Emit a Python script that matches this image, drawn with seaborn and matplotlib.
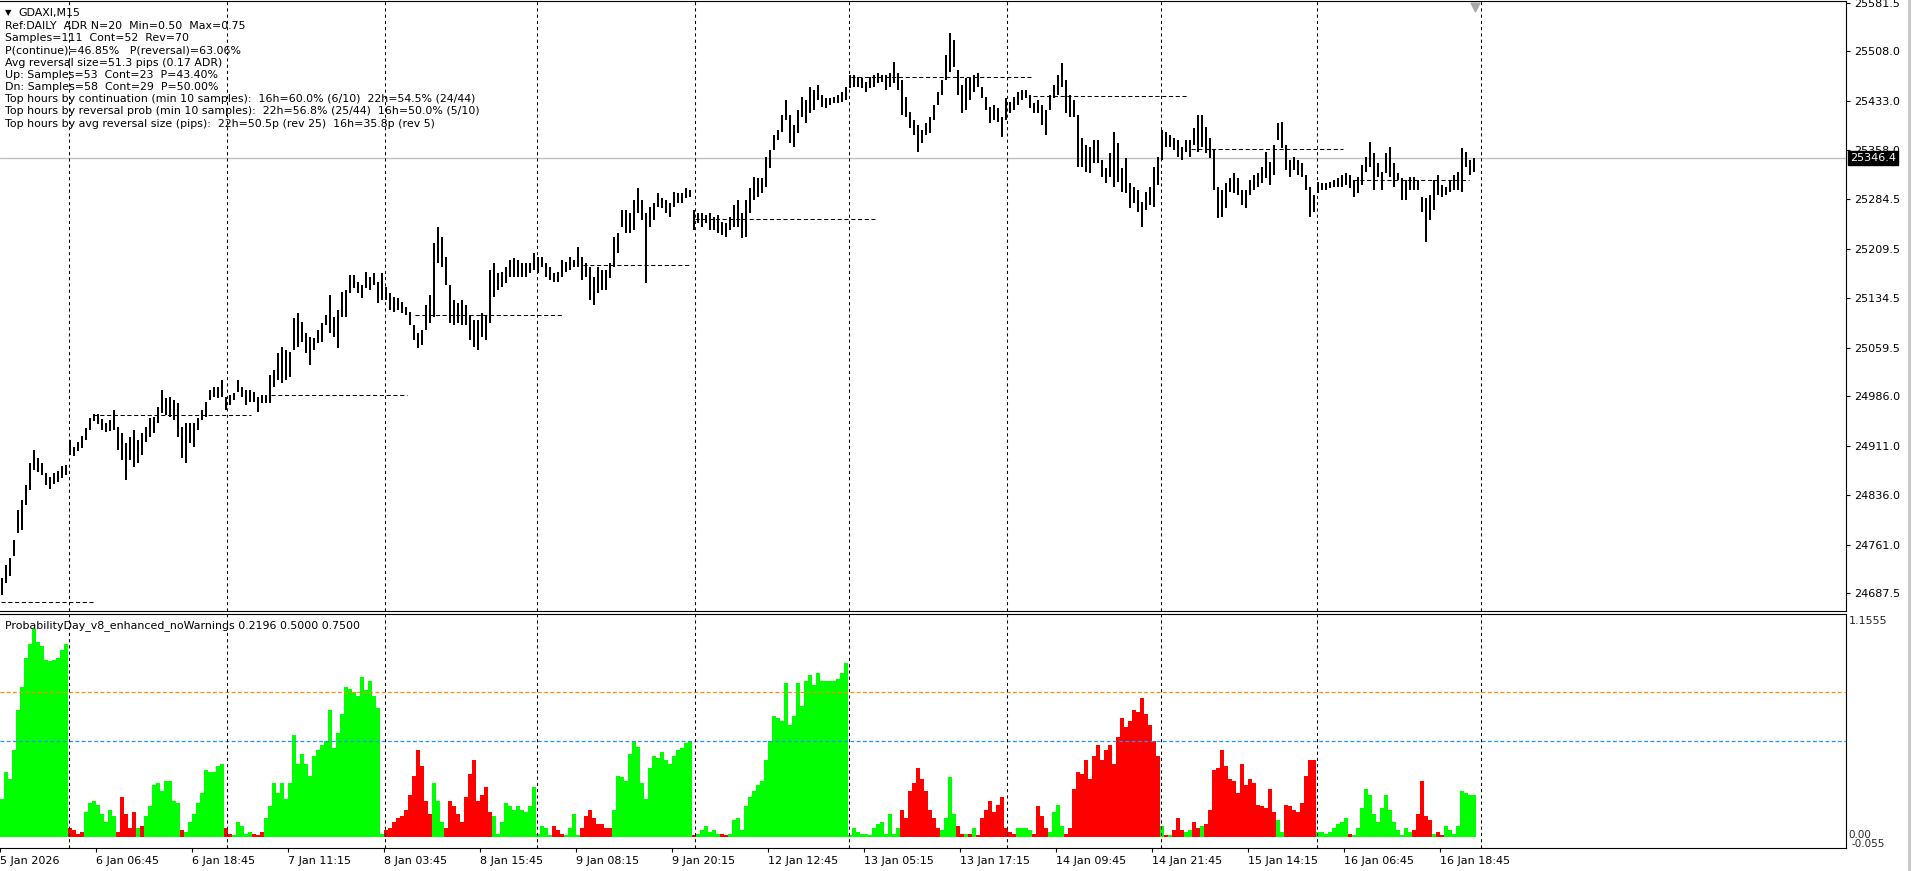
import numpy as np
import pandas as pd
import matplotlib
matplotlib.use("Agg")
import matplotlib.pyplot as plt
import matplotlib.transforms as mtransforms
from matplotlib.patches import Rectangle
import seaborn as sns

# ---------------- data ----------------
# M30-resolution highs / lows of GDAXI (each point spans two M15 bars)
bar_high = [
 24710, 24730, 24741, 24768, 24813, 24829, 24851, 24885, 24904, 24892,
 24885, 24869, 24863, 24869, 24872, 24880, 24882, 24919, 24909, 24916,
 24926, 24938, 24953, 24959, 24959, 24951, 24945, 24950, 24965, 24939,
 24930, 24915, 24924, 24935, 24919, 24930, 24939, 24953, 24954, 24969,
 24995, 24983, 24985, 24980, 24976, 24939, 24945, 24945, 24945, 24953,
 24965, 24977, 24995, 25000, 25000, 25010, 24985, 24988, 24991, 25010,
 25000, 24995, 24995, 24992, 24985, 24988, 24988, 25018, 25026, 25051,
 25060, 25056, 25053, 25104, 25112, 25098, 25082, 25076, 25074, 25086,
 25097, 25109, 25139, 25106, 25116, 25144, 25147, 25169, 25169, 25159,
 25154, 25174, 25166, 25172, 25159, 25172, 25151, 25142, 25136, 25135,
 25129, 25121, 25113, 25094, 25082, 25086, 25124, 25139, 25218, 25242,
 25227, 25197, 25154, 25132, 25127, 25132, 25124, 25109, 25101, 25101,
 25112, 25109, 25177, 25188, 25172, 25174, 25182, 25192, 25195, 25192,
 25188, 25188, 25188, 25203, 25197, 25197, 25188, 25182, 25172, 25174,
 25192, 25189, 25197, 25192, 25212, 25197, 25188, 25182, 25166, 25182,
 25177, 25177, 25188, 25227, 25233, 25268, 25268, 25263, 25283, 25301,
 25283, 25263, 25272, 25279, 25294, 25286, 25283, 25279, 25295, 25294,
 25294, 25301, 25298, 25268, 25263, 25263, 25260, 25263, 25257, 25260,
 25250, 25248, 25257, 25275, 25283, 25263, 25283, 25301, 25318, 25316,
 25316, 25348, 25359, 25382, 25389, 25412, 25435, 25412, 25397, 25419,
 25439, 25435, 25454, 25450, 25457, 25442, 25438, 25438, 25439, 25442,
 25447, 25454, 25472, 25472, 25469, 25468, 25462, 25469, 25472, 25475,
 25472, 25472, 25475, 25492, 25475, 25465, 25439, 25416, 25404, 25397,
 25389, 25400, 25409, 25427, 25447, 25465, 25503, 25536, 25525, 25480,
 25457, 25468, 25468, 25472, 25475, 25454, 25439, 25424, 25427, 25423,
 25409, 25438, 25432, 25439, 25447, 25450, 25450, 25442, 25430, 25435,
 25427, 25419, 25442, 25457, 25472, 25491, 25465, 25442, 25435, 25412,
 25377, 25366, 25363, 25374, 25374, 25344, 25332, 25354, 25386, 25370,
 25332, 25347, 25309, 25303, 25298, 25280, 25295, 25303, 25333, 25348,
 25389, 25386, 25382, 25377, 25374, 25363, 25374, 25374, 25392, 25412,
 25412, 25394, 25377, 25359, 25303, 25298, 25309, 25316, 25324, 25316,
 25298, 25298, 25313, 25321, 25324, 25333, 25356, 25341, 25366, 25400,
 25401, 25366, 25344, 25348, 25344, 25339, 25321, 25303, 25291, 25310,
 25309, 25309, 25310, 25313, 25316, 25321, 25324, 25321, 25313, 25318,
 25336, 25348, 25371, 25354, 25339, 25325, 25354, 25363, 25339, 25324,
 25316, 25313, 25318, 25318, 25313, 25288, 25286, 25291, 25313, 25321,
 25306, 25303, 25313, 25321, 25325, 25362, 25356, 25344, 25347]

bar_low = [
 24685, 24703, 24713, 24744, 24779, 24783, 24821, 24844, 24874, 24871,
 24866, 24851, 24845, 24853, 24856, 24862, 24866, 24897, 24895, 24903,
 24907, 24919, 24935, 24948, 24944, 24935, 24932, 24933, 24935, 24904,
 24889, 24859, 24889, 24879, 24885, 24897, 24916, 24924, 24930, 24945,
 24960, 24957, 24954, 24950, 24924, 24892, 24885, 24915, 24909, 24935,
 24950, 24954, 24980, 24985, 24983, 24985, 24965, 24972, 24980, 24992,
 24985, 24972, 24977, 24977, 24962, 24976, 24976, 24976, 25000, 25010,
 25006, 25010, 25015, 25056, 25060, 25068, 25051, 25033, 25056, 25066,
 25068, 25094, 25082, 25076, 25059, 25106, 25106, 25142, 25150, 25142,
 25135, 25150, 25147, 25154, 25127, 25132, 25132, 25116, 25113, 25116,
 25112, 25109, 25094, 25071, 25059, 25063, 25086, 25097, 25106, 25188,
 25182, 25154, 25097, 25094, 25097, 25094, 25094, 25071, 25060, 25056,
 25076, 25071, 25097, 25136, 25147, 25151, 25157, 25166, 25166, 25166,
 25166, 25166, 25172, 25177, 25172, 25182, 25166, 25162, 25159, 25159,
 25166, 25174, 25177, 25182, 25182, 25162, 25166, 25132, 25124, 25142,
 25147, 25147, 25165, 25182, 25203, 25242, 25233, 25233, 25238, 25263,
 25253, 25157, 25242, 25253, 25272, 25271, 25263, 25257, 25272, 25279,
 25279, 25286, 25288, 25238, 25248, 25242, 25248, 25238, 25238, 25233,
 25230, 25227, 25238, 25242, 25242, 25225, 25227, 25263, 25283, 25288,
 25294, 25303, 25332, 25359, 25374, 25386, 25404, 25370, 25363, 25385,
 25409, 25400, 25415, 25419, 25435, 25424, 25423, 25427, 25430, 25430,
 25432, 25435, 25453, 25454, 25454, 25453, 25447, 25453, 25454, 25460,
 25462, 25450, 25454, 25460, 25450, 25412, 25409, 25392, 25382, 25356,
 25370, 25382, 25385, 25404, 25427, 25442, 25465, 25477, 25485, 25442,
 25415, 25419, 25435, 25447, 25454, 25438, 25419, 25400, 25404, 25401,
 25379, 25404, 25415, 25419, 25427, 25435, 25438, 25423, 25415, 25415,
 25397, 25382, 25419, 25438, 25442, 25454, 25415, 25409, 25409, 25333,
 25333, 25325, 25324, 25339, 25339, 25318, 25309, 25318, 25303, 25310,
 25295, 25294, 25271, 25279, 25265, 25242, 25268, 25275, 25272, 25306,
 25344, 25363, 25363, 25359, 25348, 25344, 25356, 25348, 25366, 25356,
 25363, 25354, 25347, 25298, 25256, 25257, 25271, 25295, 25294, 25291,
 25275, 25271, 25291, 25298, 25303, 25309, 25316, 25306, 25321, 25374,
 25362, 25328, 25318, 25328, 25321, 25318, 25298, 25257, 25265, 25294,
 25298, 25298, 25301, 25303, 25303, 25303, 25306, 25301, 25288, 25294,
 25306, 25325, 25333, 25298, 25318, 25298, 25324, 25318, 25303, 25313,
 25283, 25283, 25298, 25298, 25298, 25265, 25219, 25253, 25268, 25291,
 25288, 25291, 25295, 25298, 25298, 25295, 25333, 25321, 25325]

# Indicator histogram: positive = continuation (green), negative = reversal (red)
prob_signed = [
 0.20, 0.34, 0.30, 0.45, 0.66, 0.78, 0.93, 1.00, 1.08, 1.01,
 0.99, 0.92, 0.91, 0.92, 0.93, 0.97, 1.00, -0.05, -0.04, -0.02,
 -0.03, 0.13, 0.18, 0.19, 0.17, 0.12, 0.08, 0.14, 0.11, -0.03,
 -0.21, -0.12, -0.05, -0.13, 0.05, -0.06, 0.11, 0.16, 0.27, 0.28,
 0.24, 0.29, 0.29, 0.19, 0.18, -0.04, 0.03, 0.08, 0.12, 0.18,
 0.23, 0.35, 0.34, 0.34, 0.37, 0.38, -0.05, -0.02, 0.01, 0.08,
 0.06, 0.02, 0.03, -0.02, -0.01, -0.03, 0.10, 0.16, 0.28, 0.23,
 0.28, 0.20, 0.28, 0.53, 0.38, 0.43, 0.38, 0.32, 0.42, 0.45,
 0.48, 0.50, 0.66, 0.46, 0.54, 0.64, 0.78, 0.77, 0.75, 0.73,
 0.83, 0.76, 0.81, 0.73, 0.67, 0.02, -0.04, -0.05, -0.08, -0.10,
 -0.11, -0.14, -0.22, -0.32, -0.45, -0.37, -0.19, -0.12, 0.28, 0.19,
 0.08, -0.05, -0.19, -0.16, -0.12, -0.08, -0.21, -0.33, -0.40, -0.19,
 -0.22, -0.26, -0.13, 0.11, 0.02, 0.08, 0.18, 0.16, 0.14, 0.16,
 0.14, 0.13, 0.16, 0.26, 0.02, 0.06, 0.05, 0.01, -0.06, -0.04,
 -0.02, 0.01, 0.05, 0.12, 0.01, -0.05, -0.11, -0.14, -0.10, -0.07,
 -0.07, -0.05, -0.05, 0.14, 0.32, 0.31, 0.29, 0.43, 0.50, 0.47,
 0.28, 0.20, 0.36, 0.42, 0.41, 0.44, 0.40, 0.38, 0.42, 0.45,
 0.46, 0.49, 0.50, -0.01, 0.02, 0.04, 0.06, 0.03, 0.04, 0.02,
 -0.02, -0.01, 0.02, 0.09, 0.10, 0.04, 0.16, 0.21, 0.24, 0.27,
 0.29, 0.40, 0.50, 0.63, 0.62, 0.60, 0.80, 0.58, 0.63, 0.80,
 0.68, 0.81, 0.84, 0.79, 0.85, 0.81, 0.81, 0.81, 0.81, 0.82,
 0.85, 0.90, 0.01, 0.05, 0.03, 0.02, 0.02, 0.01, 0.05, 0.07,
 0.08, 0.02, 0.12, 0.02, 0.05, -0.14, -0.10, -0.24, -0.28, -0.36,
 -0.30, -0.24, -0.14, -0.10, -0.05, 0.04, 0.10, 0.31, 0.12, -0.06,
 -0.02, 0.02, -0.02, 0.05, -0.01, -0.10, -0.14, -0.19, -0.13, -0.17,
 -0.21, -0.05, -0.03, -0.02, 0.05, 0.05, 0.05, 0.04, -0.02, -0.16,
 -0.11, -0.05, 0.03, 0.13, 0.17, 0.06, -0.02, -0.05, -0.25, -0.34,
 -0.33, -0.40, -0.30, -0.42, -0.48, -0.40, -0.45, -0.48, -0.38, -0.52,
 -0.62, -0.57, -0.60, -0.66, -0.65, -0.72, -0.64, -0.58, -0.50, -0.42,
 0.06, -0.01, 0.01, -0.04, -0.10, -0.04, 0.03, 0.04, -0.08, -0.05,
 0.06, -0.07, -0.14, -0.35, -0.36, -0.45, -0.37, -0.30, -0.29, -0.23,
 -0.38, -0.27, -0.30, -0.28, -0.17, -0.16, -0.15, -0.25, -0.13, 0.09,
 0.03, -0.17, -0.16, -0.14, -0.13, -0.18, -0.32, -0.40, -0.40, 0.03,
 0.03, 0.02, 0.03, 0.05, 0.07, 0.08, 0.10, -0.02, 0.01, 0.05,
 0.15, 0.25, 0.22, 0.12, 0.08, 0.15, 0.22, 0.14, 0.08, 0.04,
 0.01, 0.05, 0.03, -0.04, -0.12, -0.29, -0.11, -0.09, 0.02, -0.03,
 -0.01, 0.06, 0.04, 0.02, 0.06, 0.24, 0.23, 0.22, 0.22]

# indicator reference levels (start bar, end bar, price) in M15 bar index
level_start = [0, 46, 135, 207, 291, 347, 425, 516, 595, 676]
level_end = [46, 125, 203, 281, 345, 437, 515, 593, 671, 734]
level_price = [24674, 24957, 24988, 25109, 25185, 25254, 25469, 25441, 25360, 25313]

day_start_bars = [34, 113, 192, 268, 347, 424, 503, 580, 658, 740]

time_labels = ["5 Jan 2026", "6 Jan 06:45", "6 Jan 18:45", "7 Jan 11:15", "8 Jan 03:45",
               "8 Jan 15:45", "9 Jan 08:15", "9 Jan 20:15", "12 Jan 12:45", "13 Jan 05:15",
               "13 Jan 17:15", "14 Jan 09:45", "14 Jan 21:45", "15 Jan 14:15", "16 Jan 06:45",
               "16 Jan 18:45"]
bars_per_label = 48

price_ticks = [25581.5, 25508.0, 25433.0, 25358.0, 25284.5, 25209.5, 25134.5,
               25059.5, 24986.0, 24911.0, 24836.0, 24761.0, 24687.5]
last_price = 25346.4
price_range = (24660.3, 25584.5)
ind_range = (-0.055, 1.1555)
ind_levels = [0.75, 0.50]

header_lines = [
    "Ref:DAILY  ADR N=20  Min=0.50  Max=0.75",
    "Samples=111  Cont=52  Rev=70",
    "P(continue)=46.85%   P(reversal)=63.06%",
    "Avg reversal size=51.3 pips (0.17 ADR)",
    "Up: Samples=53  Cont=23  P=43.40%",
    "Dn: Samples=58  Cont=29  P=50.00%",
    "Top hours by continuation (min 10 samples):  16h=60.0% (6/10)  22h=54.5% (24/44)",
    "Top hours by reversal prob (min 10 samples):  22h=56.8% (25/44)  16h=50.0% (5/10)",
    "Top hours by avg reversal size (pips):  22h=50.5p (rev 25)  16h=35.8p (rev 5)",
]
indicator_label = "ProbabilityDay_v8_enhanced_noWarnings 0.2196 0.5000 0.7500"

# ---------------- figure ----------------
sns.set_theme(style="white")
plt.rcParams['font.family'] = ['DejaVu Sans']

W, H = 1914, 871
fig = plt.figure(figsize=(W / 100, H / 100), dpi=100)
fig.patch.set_facecolor("white")


def px_rect(l, t, r, b):
    return [l / W, 1 - b / H, (r - l) / W, (b - t) / H]


ax = fig.add_axes(px_rect(0, 1, 1846, 611))
ax2 = fig.add_axes(px_rect(0, 614, 1846, 848))

n = min(len(bar_high), len(bar_low), len(prob_signed))
pos = np.arange(n) * 2 + 0.5  # M15 bar index of each M30 point
xlim = (-0.5, 922.5)

# price bars
ax.vlines(pos, np.array(bar_low[:n]), np.array(bar_high[:n]), colors="black",
          lw=1.4, antialiased=False, zorder=3)
ax.axhline(last_price, color="#c0c0c0", lw=1.0, zorder=1)
ax.hlines(level_price, level_start, level_end, colors="black",
          linestyles=(0, (4, 2.5)), lw=0.75, zorder=2)
for d in day_start_bars:
    for a in (ax, ax2):
        a.axvline(d, color="black", lw=0.75, ls=(0, (3, 3)), zorder=4)

ax.set_xlim(*xlim)
ax.set_ylim(*price_range)
ax.set_xticks([])
ax.yaxis.tick_right()
ax.set_yticks(price_ticks)
ax.set_yticklabels([f"{v:.1f}" for v in price_ticks])
ax.tick_params(axis="y", direction="out", length=3, width=0.8, colors="black",
               labelsize=8, pad=3)
for s in ("top", "right", "bottom"):
    ax.spines[s].set_visible(True)
    ax.spines[s].set_color("black")
    ax.spines[s].set_linewidth(0.8)
ax.spines["left"].set_visible(False)

# chart-shift marker
ax.scatter([737], [0.99], marker="v", s=40, color="#a8a8a8",
           transform=mtransforms.blended_transform_factory(ax.transData, ax.transAxes),
           clip_on=False, zorder=5)

# last price label
ax.annotate(f"{last_price:.1f}", xy=(1.0, last_price), xycoords=("axes fraction", "data"),
            xytext=(3, 0), textcoords="offset points", va="center", ha="left",
            color="white", fontsize=8,
            bbox=dict(boxstyle="square,pad=0.2", fc="black", ec="black"))

# header text
for i, line in enumerate(header_lines):
    fig.text(5 / W, 1 - (26 + 12.2 * i) / H, line, fontsize=7.9, color="black",
             ha="left", va="center")
fig.text(5 / W, 1 - 13 / H, "\u25BC", fontsize=6, color="black", ha="left", va="center")
fig.text(18 / W, 1 - 13 / H, "GDAXI,M15", fontsize=7.9, color="black", ha="left", va="center")

# indicator histogram
df = pd.DataFrame({
    "pos": pos,
    "prob": np.abs(np.array(prob_signed[:n])),
    "side": np.where(np.array(prob_signed[:n]) >= 0, "cont", "rev"),
})
sns.barplot(data=df, x="pos", y="prob", hue="side",
            palette={"cont": "#00FF00", "rev": "#FF0000"},
            native_scale=True, width=1.0, dodge=False, saturation=1,
            errorbar=None, legend=False, linewidth=0, ax=ax2, zorder=2)
ax2.axhline(ind_levels[0], color="#FF8C00", lw=0.9, ls=(0, (3, 2)), zorder=3)
ax2.axhline(ind_levels[1], color="#1E90FF", lw=0.9, ls=(0, (3, 2)), zorder=3)
ax2.set_xlim(*xlim)
ax2.set_ylim(*ind_range)
ax2.set_xlabel("")
ax2.set_ylabel("")
ax2.set_yticks([])
tick_pos = [bars_per_label * i - 0.5 for i in range(len(time_labels))]
ax2.set_xticks(tick_pos)
ax2.set_xticklabels(time_labels, ha="left")
ax2.tick_params(axis="x", direction="out", length=3, width=0.8, colors="black",
                labelsize=8, pad=3, bottom=True)
for s in ("top", "right", "bottom"):
    ax2.spines[s].set_visible(True)
    ax2.spines[s].set_color("black")
    ax2.spines[s].set_linewidth(0.8)
ax2.spines["left"].set_visible(False)
ax2.text(0.0027, 0.972, indicator_label, transform=ax2.transAxes, fontsize=7.9,
         ha="left", va="top", color="black", zorder=6)

btr = mtransforms.blended_transform_factory(ax2.transAxes, ax2.transData)
ax2.text(1.0 + 3 / 1846, ind_range[1] - 0.01, f"{ind_range[1]:.4f}", transform=btr,
         va="top", ha="left", fontsize=8, clip_on=False)
ax2.text(1.0 + 2 / 1846, 0.012, "0.00", transform=btr, va="center", ha="left",
         fontsize=7.5, clip_on=False)
ax2.text(1.0 + 6 / 1846, -0.035, f"{ind_range[0]:.3f}", transform=btr, va="center",
         ha="left", fontsize=7.5, clip_on=False)

# window edge strip
fig.add_artist(Rectangle((1908 / W, 0), 3 / W, 1, transform=fig.transFigure,
                         color="#c8c8c8", lw=0))

fig.savefig("out.png", dpi=100, facecolor="white")
